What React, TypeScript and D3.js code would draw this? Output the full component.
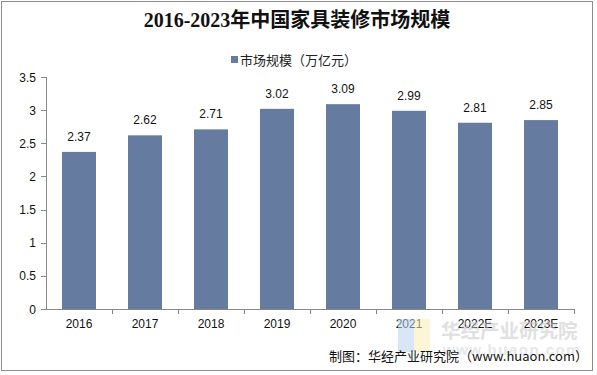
import React from "react";
import * as d3 from "d3";

const categories = ["2016", "2017", "2018", "2019", "2020", "2021", "2022E", "2023E"];
const values = [2.37, 2.62, 2.71, 3.02, 3.09, 2.99, 2.81, 2.85];
const yTicks = [0, 0.5, 1, 1.5, 2, 2.5, 3, 3.5];
const title = "2016-2023年中国家具装修市场规模";
const seriesName = "市场规模（万亿元）";
const source = "制图：华经产业研究院（www.huaon.com）";

const W = 597;
const H = 375;
const m = { left: 46, right: 23, top: 77, bottom: 66 };
const barColor = "#667BA0";
const sans = "'Liberation Sans', Arial, 'Noto Sans CJK SC', sans-serif";

export default function App() {
  const x = d3.scaleBand<string>().domain(categories).range([m.left, W - m.right]).paddingInner(0.485).paddingOuter(0.2425);
  const y = d3.scaleLinear().domain([0, 3.5]).range([H - m.bottom, m.top]);
  const step = x.step();
  const x0 = m.left;
  const y0 = y(0);
  return (
    <svg width={W} height={H} style={{ position: "absolute", left: 0, top: 0 }} fontFamily={sans}>
      <rect x={0} y={0} width={W} height={H} fill="#fff" />
      <rect x={1.5} y={1.5} width={591} height={369} fill="none" stroke="#8c8c8c" strokeWidth={1} />
      <text x={297} y={27} textAnchor="middle" fontSize={20} fontWeight="bold" fill="#111" fontFamily="'Liberation Serif', 'Noto Sans CJK SC', serif">
        {title}
      </text>
      <rect x={231} y={56} width={7} height={7} fill={barColor} />
      <text x={240} y={64.5} fontSize={13} fill="#222" fontFamily="'Noto Sans CJK SC', sans-serif">{seriesName}</text>
      {/* y axis */}
      <line x1={x0 + 0.5} x2={x0 + 0.5} y1={y(3.5)} y2={y0} stroke="#888" />
      {yTicks.map((t) => (
        <g key={t}>
          <line x1={x0 - 5} x2={x0} y1={Math.round(y(t)) + 0.5} y2={Math.round(y(t)) + 0.5} stroke="#888" />
          <text x={x0 - 10} y={y(t) + 4.5} textAnchor="end" fontSize={12} fill="#111">{t}</text>
        </g>
      ))}
      {/* x axis */}
      <line x1={x0} x2={W - m.right} y1={Math.round(y0) + 0.5} y2={Math.round(y0) + 0.5} stroke="#888" />
      {categories.map((c, i) => (
        <line key={"t" + c} x1={Math.round(x0 + step * (i + 1)) + 0.5} x2={Math.round(x0 + step * (i + 1)) + 0.5} y1={y0} y2={y0 + 5} stroke="#888" />
      ))}
      {categories.map((c, i) => (
        <g key={c}>
          <rect x={x(c)} y={y(values[i])} width={x.bandwidth()} height={y0 - y(values[i])} fill={barColor} />
          <text x={x(c)! + x.bandwidth() / 2} y={y(values[i]) - 11} textAnchor="middle" fontSize={12} fill="#111">{values[i].toFixed(2)}</text>
          <text x={x(c)! + x.bandwidth() / 2} y={y0 + 19} textAnchor="middle" fontSize={12} fill="#111">{c}</text>
        </g>
      ))}
      {/* watermark */}
      <g opacity={0.55}>
        <rect x={398} y={319} width={16} height={33} fill="#b9d3f3" />
        <rect x={414} y={319} width={16} height={33} fill="#fdf0b5" />
        <text x={441} y={338} fontSize={19.5} fontWeight="bold" fill="#c8c8c8" fontFamily="'Noto Sans CJK SC', sans-serif">华经产业研究院</text>
        <text x={443} y={355} fontSize={15} fontWeight="bold" fill="#d4d4d4" letterSpacing={1.5}>www.huaon.com</text>
      </g>
      <text x={588} y={361} textAnchor="end" fontSize={13} fill="#111" fontFamily="'Noto Sans CJK SC', sans-serif">{source}</text>
    </svg>
  );
}
